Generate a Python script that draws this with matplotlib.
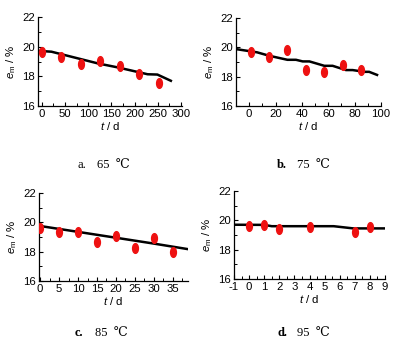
import matplotlib
matplotlib.use("Agg")
import matplotlib.pyplot as plt
from matplotlib.markers import MarkerStyle
from matplotlib.transforms import Affine2D
from matplotlib.ticker import MultipleLocator

plt.rcParams['font.family'] = ['Liberation Sans', 'DejaVu Sans']
plt.rcParams['mathtext.fontset'] = 'custom'
plt.rcParams['mathtext.rm'] = 'Liberation Sans'
plt.rcParams['mathtext.it'] = 'Liberation Sans:italic'
plt.rcParams['axes.unicode_minus'] = False

# --- data ---
# a. 65 C
t_a = [0, 42, 84, 126, 168, 210, 252]
e_a = [19.66, 19.32, 18.81, 19.03, 18.70, 18.14, 17.57]
fit_t_a = [-8, 21, 121, 164, 228, 249, 278]
fit_e_a = [19.72, 19.66, 18.87, 18.6, 18.14, 18.12, 17.7]

# b. 75 C
t_b = [1, 15, 29, 43, 57, 71, 85]
e_b = [19.66, 19.32, 19.82, 18.45, 18.29, 18.79, 18.47]
fit_t_b = [-10, 6, 15, 29, 35.5, 40.6, 45.7, 57, 63.3, 73.4, 78.5, 87.4, 91, 97]
fit_e_b = [19.88, 19.66, 19.43, 19.15, 19.15, 19.04, 19.04, 18.74, 18.74,
           18.45, 18.45, 18.33, 18.33, 18.12]

# c. 85 C
t_c = [0, 5, 10, 15, 20, 25, 30, 35]
e_c = [19.62, 19.34, 19.34, 18.66, 19.08, 18.25, 18.93, 17.97]
fit_t_c = [0, 10, 20, 30, 38.8]
fit_e_c = [19.75, 19.35, 18.95, 18.55, 18.18]

# d. 95 C
t_d = [0, 1, 2, 4, 7, 8]
e_d = [19.6, 19.69, 19.4, 19.52, 19.2, 19.55]
fit_t_d = [-1, 1, 1.5, 5.6, 6.9, 9]
fit_e_d = [19.7, 19.69, 19.6, 19.6, 19.45, 19.45]

captions = ["a.", "b.", "c.", "d."]
temps = ["65  \u2103", "75  \u2103", "85  \u2103", "95  \u2103"]

panels = [
    (t_a, e_a, fit_t_a, fit_e_a, (-8, 302), 50, 25),
    (t_b, e_b, fit_t_b, fit_e_b, (-10, 100), 20, 10),
    (t_c, e_c, fit_t_c, fit_e_c, (-0.3, 39), 5, 2.5),
    (t_d, e_d, fit_t_d, fit_e_d, (-1, 9), 1, 0.5),
]

W, H = 405, 344
boxes = [(38, 17, 182, 106), (236, 18, 381, 106),
         (39, 193, 188, 281), (234, 191, 385, 279)]
cap_pos = [(77, 165), (277, 165), (75, 333), (277, 333)]

fig = plt.figure(figsize=(W / 100, H / 100), dpi=100)
ellipse = MarkerStyle('o', transform=Affine2D().scale(0.6, 1.0))
serif = ['Liberation Serif', 'DejaVu Serif']

for i, (t, e, ft, fe, xlim, major, minor) in enumerate(panels):
    x0, y0, x1, y1 = boxes[i]
    ax = fig.add_axes([x0 / W, 1 - y1 / H, (x1 - x0) / W, (y1 - y0) / H])
    ax.plot(ft, fe, color='black', lw=1.8, zorder=2)
    ax.plot(t, e, ls='none', marker=ellipse, ms=7, color='#ee1111',
            mec='#ee1111', zorder=3)
    ax.set_xlim(*xlim)
    ax.set_ylim(16, 22)
    ax.xaxis.set_major_locator(MultipleLocator(major))
    ax.xaxis.set_minor_locator(MultipleLocator(minor))
    ax.yaxis.set_major_locator(MultipleLocator(2))
    ax.yaxis.set_minor_locator(MultipleLocator(1))
    if i == 3:
        ax.set_xticks(range(-1, 10))
    for s in ['top', 'right']:
        ax.spines[s].set_visible(False)
    for s in ['left', 'bottom']:
        ax.spines[s].set_linewidth(0.9)
    ax.tick_params(which='major', direction='in', length=3, width=0.8,
                   labelsize=8.2, pad=2)
    ax.tick_params(which='minor', direction='in', length=2, width=0.7)
    ax.set_xlabel(r'$t$ / d', fontsize=8.2, labelpad=1)
    ax.set_ylabel(r'$e_\mathrm{m}$ / %', fontsize=8.2, labelpad=3)

    cx, cy = cap_pos[i]
    fig.text(cx / W, 1 - cy / H, captions[i], ha='left', va='center',
             fontsize=9, family=serif,
             fontweight='normal' if i == 0 else 'bold')
    fig.text((cx + 20) / W, 1 - cy / H, temps[i], ha='left', va='center',
             fontsize=9, family=serif)

fig.savefig("out.png", dpi=100)
